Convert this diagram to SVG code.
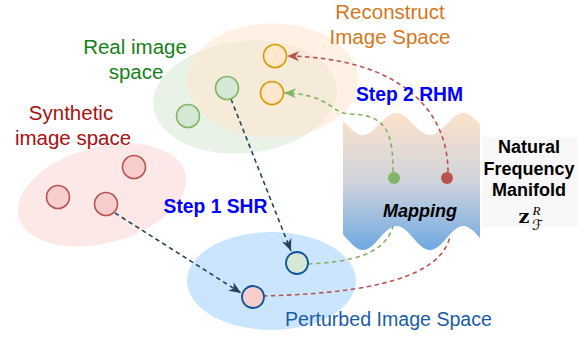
<svg xmlns="http://www.w3.org/2000/svg" width="587" height="339" viewBox="0 0 587 339">
<style>
.lbl{font-family:"Liberation Sans",Arial,sans-serif;font-size:20.5px;text-anchor:middle}
.step{font-family:"Liberation Sans",Arial,sans-serif;font-size:19.3px;font-weight:bold;fill:#0000ff;text-anchor:middle}
.nfm{font-family:"Liberation Sans",Arial,sans-serif;font-size:18px;font-weight:bold;fill:#000;text-anchor:middle}
.dash{fill:none;stroke-width:1.6;stroke-dasharray:4.5 3.5}
.red{stroke:#b85450}
.grn{stroke:#82b366}
.dark{stroke:#23445d}
.cr{fill:#f8cecc;stroke:#b85450;stroke-width:1.6}
.cg{fill:#d5e8d4;stroke:#82b366;stroke-width:1.6}
.co{fill:#ffe6cc;stroke:#d79b00;stroke-width:1.6}
.cbr{fill:#f8cecc;stroke:#10549c;stroke-width:1.8}
.cbg{fill:#d5e8d4;stroke:#10549c;stroke-width:1.8}
</style>
<defs>
<linearGradient id="mapgrad" gradientUnits="userSpaceOnUse" x1="0" y1="113" x2="0" y2="250">
<stop offset="0" stop-color="#fce2ca"/>
<stop offset="0.5" stop-color="#d0d4dc"/>
<stop offset="1" stop-color="#6fa8e1"/>
</linearGradient>
<marker id="arR" markerUnits="userSpaceOnUse" markerWidth="12" markerHeight="11" viewBox="0 0 12 11" refX="12" refY="5.5" orient="auto"><path d="M0,0.5 L12,5.5 L0,10.5 L3.5,5.5 Z" fill="#b85450"/></marker>
<marker id="arG" markerUnits="userSpaceOnUse" markerWidth="12" markerHeight="11" viewBox="0 0 12 11" refX="12" refY="5.5" orient="auto"><path d="M0,0.5 L12,5.5 L0,10.5 L3.5,5.5 Z" fill="#82b366"/></marker>
<marker id="arD" markerUnits="userSpaceOnUse" markerWidth="12" markerHeight="11" viewBox="0 0 12 11" refX="12" refY="5.5" orient="auto"><path d="M0,0.5 L12,5.5 L0,10.5 L3.5,5.5 Z" fill="#23445d"/></marker>
</defs>

<g id="synthetic-space">
<ellipse cx="102" cy="195" rx="86" ry="48" transform="rotate(-15 102 195)" fill="#fbe8e7"/>
</g>
<g id="real-space">
<ellipse cx="245" cy="97" rx="92" ry="56" transform="rotate(-6 245 97)" fill="#d5e8d4" fill-opacity="0.55"/>
</g>
<g id="reconstruct-space">
<ellipse cx="272.5" cy="80.5" rx="86" ry="57" fill="#ffe6cc" fill-opacity="0.55"/>
</g>
<g id="perturbed-space">
<ellipse cx="271.5" cy="281" rx="84.5" ry="49" fill="#cce5ff"/>
</g>

<g id="mapping">
<path d="M343,121 C349.7,127.6 356,135 363,135 C375.2,135 384.3,113 396.5,113 C408.7,113 417.8,135 430,135 C442.2,135 451.3,113 463.5,113 C469,113 474.5,118.5 480,124 L480,238 C474.5,231.8 469,226 463.5,226 C451.3,226 442.2,250 430,250 C417.8,250 408.7,226 396.5,226 C384.3,226 375.2,250 363,250 C356,250 349.7,241.6 343,234.4 Z" fill="url(#mapgrad)"/>
<text x="420" y="217" font-family="Liberation Sans,Arial,sans-serif" font-size="18" font-weight="bold" font-style="italic" text-anchor="middle" fill="#000">Mapping</text>
</g>

<g id="connectors">
<path class="dash red" d="M448,172 C448,110 400,58 287,56" marker-end="url(#arR)"/>
<path class="dash grn" d="M393,172 C393,130 385,115 350,114 C330,113 330,94 284,93" marker-end="url(#arG)"/>
<path class="dash dark" d="M231,99 L291,251" marker-end="url(#arD)"/>
<path class="dash dark" d="M115,213 L241,293" marker-end="url(#arD)"/>
<path class="dash grn" d="M308,264 C350,262 385,255 393,226"/>
<path class="dash red" d="M263,296 C340,294 440,285 450,236"/>
</g>

<g id="map-dots">
<circle cx="394" cy="178" r="6" fill="#82b366"/>
<circle cx="447" cy="178" r="6" fill="#b85450"/>
</g>

<g id="synthetic-points">
<circle class="cr" cx="134" cy="167" r="11.5"/>
<circle class="cr" cx="58" cy="197" r="11.5"/>
<circle class="cr" cx="106" cy="204" r="11.5"/>
</g>
<g id="real-points">
<circle class="cg" cx="227" cy="88" r="11.5"/>
<circle class="cg" cx="188" cy="116" r="11.5"/>
</g>
<g id="reconstruct-points">
<circle class="co" cx="275" cy="56" r="11.5"/>
<circle class="co" cx="272" cy="93" r="11.5"/>
</g>
<g id="perturbed-points">
<circle class="cbg" cx="297" cy="263" r="11"/>
<circle class="cbr" cx="253" cy="297" r="11"/>
</g>

<g id="labels">
<text class="lbl" fill="#d4781c"><tspan x="390" y="19">Reconstruct</tspan><tspan x="390" y="43.5">Image Space</tspan></text>
<text class="lbl" fill="#17801a"><tspan x="135" y="54">Real image</tspan><tspan x="136" y="78.5">space</tspan></text>
<text class="lbl" fill="#a8100f"><tspan x="71" y="120">Synthetic</tspan><tspan x="73" y="145">image space</tspan></text>
<text class="lbl" fill="#1c5ca8" style="font-size:19.6px" x="388.5" y="326">Perturbed Image Space</text>
<text class="step" x="215.5" y="213">Step 1 SHR</text>
<text class="step" x="409.5" y="101">Step 2 RHM</text>
</g>

<g id="manifold-label">
<rect x="482" y="137" width="96" height="90" fill="#f8f8f8"/>
<text class="nfm"><tspan x="529" y="153">Natural</tspan><tspan x="529" y="174.5">Frequency</tspan><tspan x="529" y="196">Manifold</tspan></text>
<text x="518.5" y="222.5" font-family="DejaVu Serif,serif" font-size="19" font-weight="bold" fill="#000">z</text>
<text x="532.5" y="215" font-family="Liberation Serif,serif" font-size="13" font-style="italic" fill="#000">R</text>
<text x="532" y="230" font-family="DejaVu Serif,DejaVu Sans,serif" font-size="14" font-style="italic" fill="#000">ℱ</text>
</g>
</svg>
